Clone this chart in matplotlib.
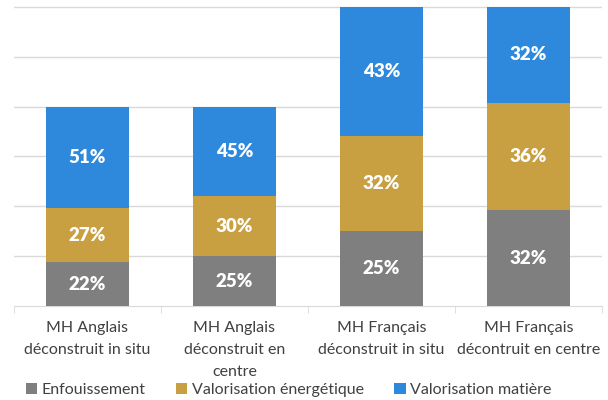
import matplotlib
matplotlib.use("Agg")
import matplotlib.pyplot as plt
import numpy as np

plt.rcParams['font.family'] = ['Lato', 'DejaVu Sans']

# Categories and data (totals in gridline units, shares in %)
categories = ["MH Anglais\ndéconstruit in situ",
              "MH Anglais\ndéconstruit en\ncentre",
              "MH Français\ndéconstruit in situ",
              "MH Français\ndécontruit en centre"]
totals = [4, 4, 6, 6]
enfouissement = [22, 25, 25, 32]
val_energie = [27, 30, 32, 36]
val_matiere = [51, 45, 43, 32]

series = [("Enfouissement", enfouissement, "#7F7F7F"),
          ("Valorisation énergétique", val_energie, "#C8A042"),
          ("Valorisation matière", val_matiere, "#2E89DC")]

fig = plt.figure(figsize=(6.08, 4.0), dpi=100)
ax = fig.add_axes([0.023, 0.235, 0.967, 0.75])

x = np.arange(len(categories))
bottom = np.zeros(len(categories))
for name, pct, col in series:
    h = np.array(totals) * np.array(pct) / 100.0
    ax.bar(x, h, 0.57, bottom=bottom, color=col, label=name, zorder=3)
    for xi, b, hi, p in zip(x, bottom, h, pct):
        ax.text(xi, b + hi / 2, f"{p}%", ha='center', va='center',
                color='white', fontsize=13.5, fontweight='heavy', zorder=4)
    bottom += h

ax.set_xlim(-0.5, 3.5)
ax.set_ylim(0, 6.02)
ax.set_yticks(np.arange(1, 7))
ax.yaxis.grid(True, color='#D9D9D9', lw=1, zorder=0)
ax.tick_params(axis='y', left=False, labelleft=False)
for s in ['top', 'right', 'left']:
    ax.spines[s].set_visible(False)
ax.spines['bottom'].set_color('#D9D9D9')
ax.set_xticks(x)
ax.set_xticklabels(categories, fontsize=11.5, color='#404040', linespacing=1.72)
ax.tick_params(axis='x', length=0, pad=11)
ax.set_xticks(np.arange(-0.5, 4.0, 1), minor=True)
ax.tick_params(axis='x', which='minor', length=5, color='#D9D9D9')

fig.legend(loc='lower center', bbox_to_anchor=(0.475, -0.028), ncol=3,
           frameon=False, fontsize=11.5, handlelength=0.7, handleheight=0.7,
           handletextpad=0.3, columnspacing=1.9, labelcolor='#404040')

fig.savefig("out.png", dpi=100)
